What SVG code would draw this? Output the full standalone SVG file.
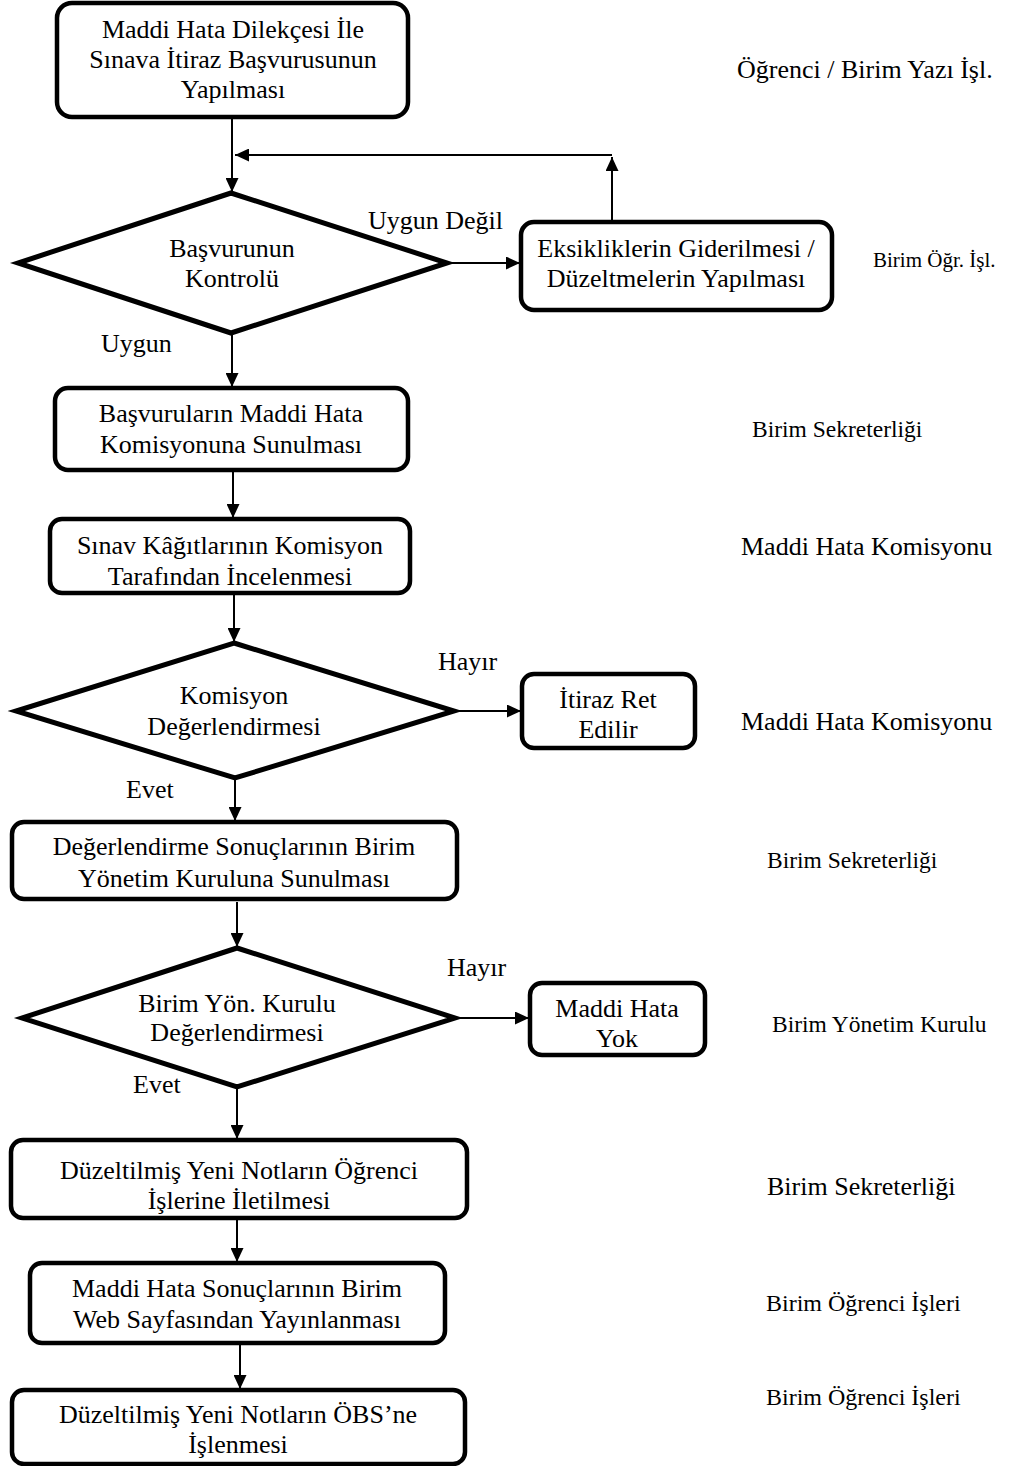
<svg xmlns="http://www.w3.org/2000/svg" width="1025" height="1466" viewBox="0 0 1025 1466">
<defs>
<marker id="ah" markerUnits="userSpaceOnUse" markerWidth="15" markerHeight="13" refX="14" refY="6.5" orient="auto">
<path d="M0,0 L14,6.5 L0,13 z" fill="#000"/>
</marker>
<style>
.box{fill:#fff;stroke:#000;stroke-width:4.5}
.dia{fill:#fff;stroke:#000;stroke-width:5;stroke-linejoin:miter}
.con{fill:none;stroke:#000;stroke-width:2;marker-end:url(#ah)}
.line{fill:none;stroke:#000;stroke-width:2}
text{font-family:"Liberation Serif","Times New Roman",serif;fill:#000}
.t{font-size:26px;text-anchor:middle}
.lbl{font-size:26px}
.r26{font-size:26px}
.r24{font-size:24px}
.r23{font-size:23.5px}
.r21{font-size:21px}
</style>
</defs>
<rect width="1025" height="1466" fill="#fff"/>

<g id="connectors">
<path class="con" d="M232,117 L232,192"/>
<path class="con" d="M612,222 L612,157"/>
<path class="con" d="M612,155 L235,155"/>
<path class="con" d="M447,263 L520,263"/>
<path class="con" d="M232,333 L232,387"/>
<path class="con" d="M233,470 L233,518"/>
<path class="con" d="M234,593 L234,642"/>
<path class="con" d="M454,711 L521,711"/>
<path class="con" d="M235,778 L235,821"/>
<path class="con" d="M237,902 L237,947"/>
<path class="con" d="M455,1018 L529,1018"/>
<path class="con" d="M237,1087 L237,1139"/>
<path class="con" d="M237,1218 L237,1262"/>
<path class="con" d="M240,1343 L240,1389"/>
<text class="lbl" x="368" y="229">Uygun Değil</text>
<text class="lbl" x="101" y="352">Uygun</text>
<text class="lbl" x="438" y="670">Hayır</text>
<text class="lbl" x="126" y="798">Evet</text>
<text class="lbl" x="447" y="976">Hayır</text>
<text class="lbl" x="133" y="1093">Evet</text>
</g>

<g id="n1">
<rect class="box" x="57" y="3" width="351" height="114" rx="15"/>
<text class="t" x="233" y="38">Maddi Hata Dilekçesi İle</text>
<text class="t" x="233" y="68">Sınava İtiraz Başvurusunun</text>
<text class="t" x="233" y="98">Yapılması</text>
</g>

<g id="d1">
<polygon class="dia" points="231,193 447,263 231,333 18,263"/>
<text class="t" x="232" y="257">Başvurunun</text>
<text class="t" x="232" y="287">Kontrolü</text>
</g>

<g id="n2">
<rect class="box" x="521" y="222" width="311" height="88" rx="13"/>
<text class="t" x="676" y="257">Eksikliklerin Giderilmesi /</text>
<text class="t" x="676" y="287">Düzeltmelerin Yapılması</text>
</g>

<g id="n3">
<rect class="box" x="55" y="388" width="353" height="82" rx="13"/>
<text class="t" x="231" y="422">Başvuruların Maddi Hata</text>
<text class="t" x="231" y="453">Komisyonuna Sunulması</text>
</g>

<g id="n4">
<rect class="box" x="50" y="519" width="360" height="74" rx="12"/>
<text class="t" x="230" y="554">Sınav Kâğıtlarının Komisyon</text>
<text class="t" x="230" y="585">Tarafından İncelenmesi</text>
</g>

<g id="d2">
<polygon class="dia" points="234,643 454,711 235,778 16,711"/>
<text class="t" x="234" y="704">Komisyon</text>
<text class="t" x="234" y="735">Değerlendirmesi</text>
</g>

<g id="n5">
<rect class="box" x="522" y="674" width="173" height="74" rx="12"/>
<text class="t" x="608" y="708">İtiraz Ret</text>
<text class="t" x="608" y="738">Edilir</text>
</g>

<g id="n6">
<rect class="box" x="12" y="822" width="445" height="77" rx="12"/>
<text class="t" x="234" y="855">Değerlendirme Sonuçlarının Birim</text>
<text class="t" x="234" y="887">Yönetim Kuruluna Sunulması</text>
</g>

<g id="d3">
<polygon class="dia" points="237,948 455,1018 237,1087 22,1018"/>
<text class="t" x="237" y="1012">Birim Yön. Kurulu</text>
<text class="t" x="237" y="1041">Değerlendirmesi</text>
</g>

<g id="n7">
<rect class="box" x="530" y="983" width="175" height="72" rx="12"/>
<text class="t" x="617" y="1017">Maddi Hata</text>
<text class="t" x="617" y="1047">Yok</text>
</g>

<g id="n8">
<rect class="box" x="11" y="1140" width="456" height="78" rx="12"/>
<text class="t" x="239" y="1179">Düzeltilmiş Yeni Notların Öğrenci</text>
<text class="t" x="239" y="1209">İşlerine İletilmesi</text>
</g>

<g id="n9">
<rect class="box" x="30" y="1263" width="415" height="80" rx="12"/>
<text class="t" x="237" y="1297">Maddi Hata Sonuçlarının Birim</text>
<text class="t" x="237" y="1328">Web Sayfasından Yayınlanması</text>
</g>

<g id="n10">
<rect class="box" x="12" y="1390" width="453" height="74" rx="12"/>
<text class="t" x="238" y="1423">Düzeltilmiş Yeni Notların ÖBS’ne</text>
<text class="t" x="238" y="1453">İşlenmesi</text>
</g>

<g id="roles">
<text class="r26" x="737" y="78">Öğrenci / Birim Yazı İşl.</text>
<text class="r21" x="873" y="267">Birim Öğr. İşl.</text>
<text class="r23" x="752" y="437">Birim Sekreterliği</text>
<text class="r26" x="741" y="555">Maddi Hata Komisyonu</text>
<text class="r26" x="741" y="730">Maddi Hata Komisyonu</text>
<text class="r23" x="767" y="868">Birim Sekreterliği</text>
<text class="r23" x="772" y="1032">Birim Yönetim Kurulu</text>
<text class="r26" x="767" y="1195">Birim Sekreterliği</text>
<text class="r24" x="766" y="1311">Birim Öğrenci İşleri</text>
<text class="r24" x="766" y="1405">Birim Öğrenci İşleri</text>
</g>
</svg>
